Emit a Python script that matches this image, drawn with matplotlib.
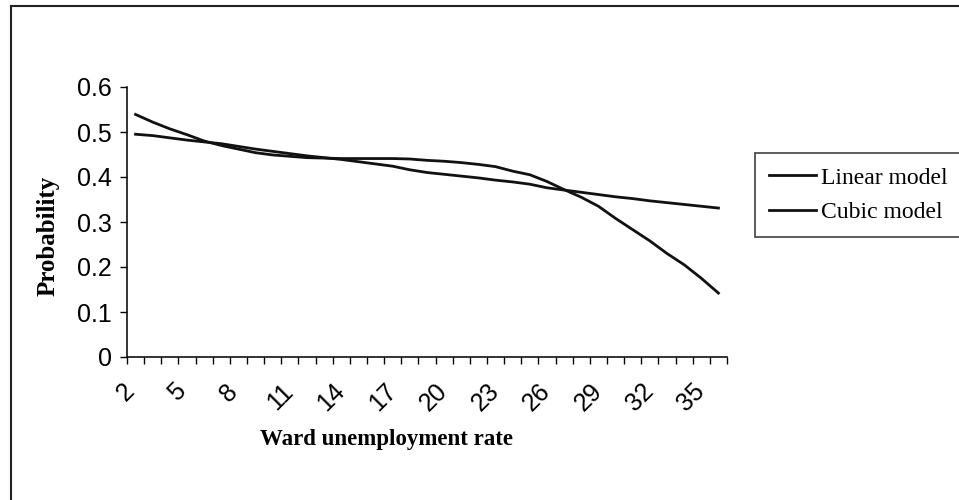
import matplotlib.pyplot as plt
from matplotlib.lines import Line2D
from matplotlib.transforms import ScaledTranslation

rate = list(range(2, 37))
linear = [0.495, 0.492, 0.487, 0.482, 0.478, 0.474, 0.468, 0.462, 0.457, 0.452,
          0.447, 0.443, 0.439, 0.434, 0.429, 0.424, 0.416, 0.410, 0.406, 0.402,
          0.398, 0.393, 0.389, 0.384, 0.376, 0.371, 0.366, 0.361, 0.356, 0.352,
          0.347, 0.343, 0.339, 0.335, 0.331]
cubic = [0.539, 0.522, 0.507, 0.494, 0.480, 0.470, 0.462, 0.454, 0.449, 0.446,
         0.443, 0.442, 0.441, 0.441, 0.441, 0.441, 0.440, 0.437, 0.435, 0.432,
         0.428, 0.423, 0.413, 0.405, 0.390, 0.372, 0.355, 0.335, 0.308, 0.283,
         0.258, 0.230, 0.205, 0.175, 0.142]
xlabels = list(range(2, 36, 3))
yticks = [0, 0.1, 0.2, 0.3, 0.4, 0.5, 0.6]

serif = 'Liberation Serif'
sans = 'Liberation Sans'

fig = plt.figure(figsize=(9.59, 5.0), dpi=100)
ax = fig.add_axes([127 / 959, 1 - 357 / 500, 600 / 959, 270 / 500])

ax.plot(rate, linear, color='#111111', lw=2, label='Linear model')
ax.plot(rate, cubic, color='#111111', lw=2, label='Cubic model')

ax.set_xlim(1.5, 36.5)
ax.set_ylim(0, 0.6)
for s in ['top', 'right']:
    ax.spines[s].set_visible(False)
for s in ['left', 'bottom']:
    ax.spines[s].set_linewidth(1.2)
    ax.spines[s].set_color('#111111')

ax.set_yticks(yticks)
ax.set_yticklabels(['0' if v == 0 else f'{v:.1f}' for v in yticks],
                   fontfamily=sans, fontsize=18)
ax.tick_params(axis='y', length=5, width=1, pad=6)

ax.set_xticks([x - 0.5 for x in rate] + [36.5], minor=True)
ax.set_xticks(xlabels)
ax.set_xticklabels([str(v) for v in xlabels], rotation=45, ha='center',
                   fontfamily=sans, fontsize=18)
ax.tick_params(axis='x', which='major', length=0, pad=16)
ax.tick_params(axis='x', which='minor', length=5, width=1)
shift = ScaledTranslation(-10 / 100, 0, fig.dpi_scale_trans)
for lab in ax.get_xticklabels():
    lab.set_transform(lab.get_transform() + shift)

fig.text(48 / 959, 1 - 236 / 500, 'Probability', rotation=90, ha='center',
         va='center', fontfamily=serif, fontweight='bold', fontsize=18)
fig.text(387 / 959, 1 - 440 / 500, 'Ward unemployment rate', ha='center',
         va='center', fontfamily=serif, fontweight='bold', fontsize=16.5)

leg = fig.legend(loc='upper left', bbox_to_anchor=(755 / 959, 1 - 153 / 500),
                 prop={'family': serif, 'size': 17}, frameon=True, fancybox=False,
                 handlelength=2.0, handletextpad=0.2, borderpad=0.6,
                 labelspacing=0.55, borderaxespad=0)
leg.get_frame().set_edgecolor('#111111')
leg.get_frame().set_linewidth(1.2)
for h in leg.get_lines():
    h.set_linewidth(2)

# outer chart frame (left and top edges visible)
fig.add_artist(Line2D([11 / 959, 11 / 959], [0, 1 - 6 / 500], transform=fig.transFigure,
                      color='#222222', lw=1.5))
fig.add_artist(Line2D([11 / 959, 1], [1 - 6 / 500, 1 - 6 / 500], transform=fig.transFigure,
                      color='#222222', lw=1.5))

fig.savefig('out.png', dpi=100)
